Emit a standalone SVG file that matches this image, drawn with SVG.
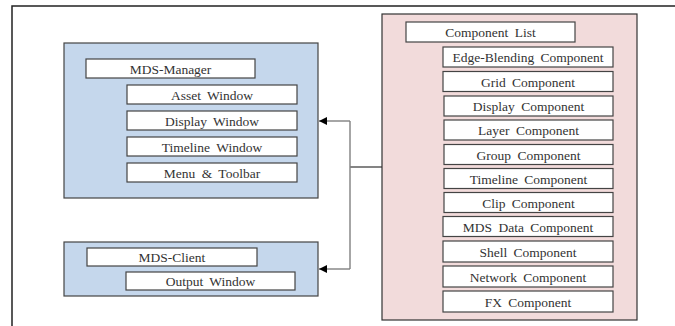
<svg xmlns="http://www.w3.org/2000/svg" width="675" height="326" viewBox="0 0 675 326">
  <style>
    .frame { fill: none; stroke: #222; stroke-width: 1.5; }
    .panel-blue { fill: #c5d7ec; stroke: #444; stroke-width: 1.2; }
    .panel-pink { fill: #f2dbdb; stroke: #333; stroke-width: 1.2; }
    .item { fill: #ffffff; stroke: #444; stroke-width: 1.2; }
    .label { font-family: "Liberation Serif", "DejaVu Serif", serif; font-size: 13.5px; fill: #333; text-anchor: middle; word-spacing: 3px; }
    .wire { fill: none; stroke: #808080; stroke-width: 1.4; }
    .wire-dark { fill: none; stroke: #333; stroke-width: 1.2; }
  </style>
  <defs>
    <marker id="arrow" viewBox="0 0 10 10" refX="10" refY="5" markerWidth="9" markerHeight="8" markerUnits="userSpaceOnUse" orient="auto">
      <path d="M0,0 L10,5 L0,10 Z" fill="#000"/>
    </marker>
  </defs>

  <rect width="675" height="326" fill="#ffffff"/>
  <!-- outer frame (left and top edges) -->
  <path class="frame" d="M12,326 L12,6 L675,6"/>

  <!-- MDS-Manager -->
  <g id="mds-manager">
    <rect class="panel-blue" x="64" y="43" width="254" height="155"/>
    <rect class="item" x="86" y="59" width="169" height="19"/>
    <text class="label" x="170.5" y="73.5">MDS-Manager</text>
    <rect class="item" x="127" y="85" width="170" height="19"/>
    <text class="label" x="212" y="99.5">Asset Window</text>
    <rect class="item" x="127" y="111" width="170" height="19"/>
    <text class="label" x="212" y="125.5">Display Window</text>
    <rect class="item" x="127" y="137" width="170" height="19"/>
    <text class="label" x="212" y="151.5">Timeline Window</text>
    <rect class="item" x="127" y="163" width="170" height="19"/>
    <text class="label" x="212" y="177.5">Menu &amp; Toolbar</text>
  </g>

  <!-- MDS-Client -->
  <g id="mds-client">
    <rect class="panel-blue" x="64" y="242" width="254" height="54"/>
    <rect class="item" x="87" y="248" width="170" height="18"/>
    <text class="label" x="172" y="262">MDS-Client</text>
    <rect class="item" x="126" y="272" width="169" height="18"/>
    <text class="label" x="210.5" y="286">Output Window</text>
  </g>

  <!-- Component List -->
  <g id="component-list">
    <rect class="panel-pink" x="382" y="14" width="255" height="306"/>
    <rect class="item" x="406" y="22" width="169" height="20"/>
    <text class="label" x="490.5" y="37">Component List</text>
    <rect class="item" x="443" y="47" width="170" height="20"/>
    <text class="label" x="528" y="62">Edge-Blending Component</text>
    <rect class="item" x="443" y="71.5" width="170" height="20"/>
    <text class="label" x="528" y="86.5">Grid Component</text>
    <rect class="item" x="444" y="96" width="169" height="20"/>
    <text class="label" x="528.5" y="111">Display Component</text>
    <rect class="item" x="444" y="120" width="169" height="20"/>
    <text class="label" x="528.5" y="135">Layer Component</text>
    <rect class="item" x="444" y="144.5" width="169" height="20"/>
    <text class="label" x="528.5" y="159.5">Group Component</text>
    <rect class="item" x="444" y="168.5" width="169" height="20"/>
    <text class="label" x="528.5" y="183.5">Timeline Component</text>
    <rect class="item" x="444" y="192.5" width="169" height="20"/>
    <text class="label" x="528.5" y="207.5">Clip Component</text>
    <rect class="item" x="443" y="216.5" width="170" height="20"/>
    <text class="label" x="528" y="231.5">MDS Data Component</text>
    <rect class="item" x="443" y="241" width="170" height="21"/>
    <text class="label" x="528" y="256.5">Shell Component</text>
    <rect class="item" x="443" y="266" width="170" height="21"/>
    <text class="label" x="528" y="281.5">Network Component</text>
    <rect class="item" x="443" y="291" width="170" height="21"/>
    <text class="label" x="528" y="306.5">FX Component</text>
  </g>

  <!-- connectors -->
  <g id="connectors">
    <path class="wire-dark" d="M382,167 L350,167"/>
    <path class="wire" d="M350,121 L350,269"/>
    <path class="wire" d="M350,121 L319,121" marker-end="url(#arrow)"/>
    <path class="wire" d="M350,269 L319,269" marker-end="url(#arrow)"/>
  </g>
</svg>
